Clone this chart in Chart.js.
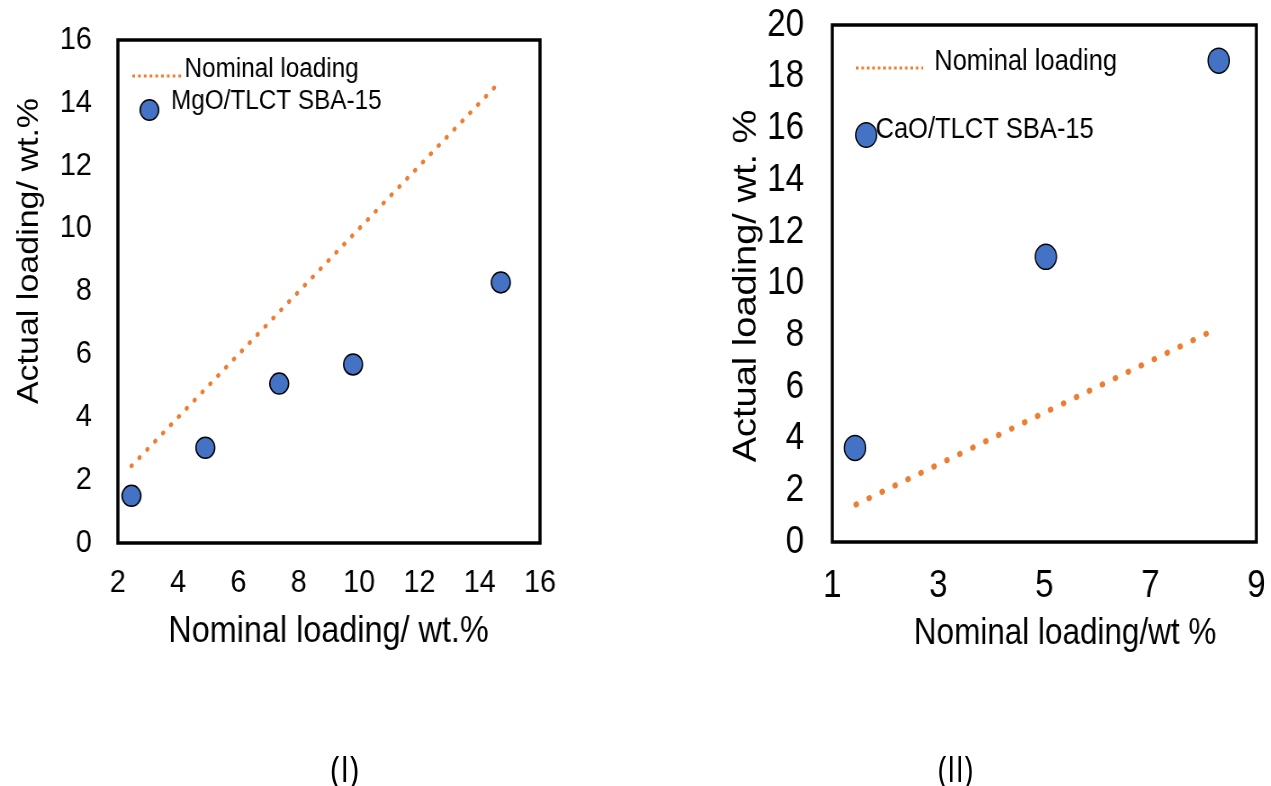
<!DOCTYPE html>
<html>
<head>
<meta charset="utf-8">
<title>Actual vs nominal loading</title>
<script src="https://cdn.jsdelivr.net/npm/chart.js@4.4.1/dist/chart.umd.min.js"></script>
<style>
  html, body { margin: 0; padding: 0; background: #fff; overflow: hidden; }
  .panel { position: absolute; top: 0; height: 786px; transform-origin: 0 0; }
  #panelMgo { left: 0; width: 706px; transform: scaleX(0.9); }
  #panelCao { left: 635px; width: 748px; transform: scaleX(0.85); }
  .panel canvas { position: absolute; left: 0; top: 0; }
  .panel-tag {
    position: absolute; top: 768px;
    font-family: 'Open Sans', sans-serif; font-size: 36px; color: #000;
    transform: translate(-50%, -50%); white-space: nowrap;
  }
</style>
</head>
<body>
<div class="panel" id="panelMgo">
  <canvas id="mgoChart" width="706" height="680"></canvas>
  <div class="panel-tag" style="left:383px">(I)</div>
</div>
<div class="panel" id="panelCao">
  <canvas id="caoChart" width="748" height="680"></canvas>
  <div class="panel-tag" style="left:377px">(II)</div>
</div>
<script>
// (I) MgO on TLCT SBA-15
const mgoNominal = [2.45, 4.9, 7.35, 9.8, 14.7];
const mgoActual = [1.5, 3.03, 5.07, 5.68, 8.29];
const mgoLine = [2.45, 14.65];
const mgoXTicks = [2, 4, 6, 8, 10, 12, 14, 16];
const mgoYTicks = [0, 2, 4, 6, 8, 10, 12, 14, 16];

// (II) CaO on TLCT SBA-15
const caoNominal = [1.43, 5.03, 8.29];
const caoActual = [3.64, 11.03, 18.62];
const caoLine = [1.45, 8.22];
const caoXTicks = [1, 3, 5, 7, 9];
const caoYTicks = [0, 2, 4, 6, 8, 10, 12, 14, 16, 18, 20];

const FONT = "'Liberation Sans', Arial, sans-serif";
const orange = '#ED7D31';
const blue = '#4472C4';

// frame, in-plot legend and axis titles
const decor = {
    id: 'decor',
    beforeDatasetsDraw(chart, args, o) {
        const { ctx, chartArea: a } = chart;
        ctx.save();
        ctx.strokeStyle = '#000';
        ctx.lineWidth = 3.5;
        ctx.strokeRect(a.left, a.top, a.right - a.left, a.bottom - a.top);
        ctx.restore();
    },
    afterDraw(chart, args, o) {
        const ctx = chart.ctx;
        const lg = o.legend;
        ctx.save();
        ctx.fillStyle = '#000';
        ctx.textBaseline = 'middle';

        // dotted line sample
        ctx.strokeStyle = orange;
        ctx.lineWidth = 3;
        ctx.setLineDash([3, 3.4]);
        ctx.beginPath();
        ctx.moveTo(lg.lineX1, lg.lineY);
        ctx.lineTo(lg.lineX2, lg.lineY);
        ctx.stroke();
        ctx.setLineDash([]);

        // marker sample
        ctx.beginPath();
        ctx.arc(lg.dotX, lg.dotY, lg.dotR, 0, Math.PI * 2);
        ctx.fillStyle = blue;
        ctx.fill();
        ctx.lineWidth = 1.5;
        ctx.strokeStyle = '#000';
        ctx.stroke();

        ctx.fillStyle = '#000';
        ctx.textAlign = 'left';
        ctx.font = lg.size + 'px ' + FONT;
        ctx.fillText('Nominal loading', lg.text1X, lg.text1Y);
        ctx.fillText(lg.label, lg.text2X, lg.text2Y);

        // axis titles
        const t = o.titles;
        ctx.textAlign = 'center';
        ctx.font = t.xSize + 'px ' + FONT;
        ctx.fillText(t.x, t.xX, t.xY);
        ctx.translate(t.yX, t.yY);
        ctx.rotate(-Math.PI / 2);
        ctx.font = t.ySize + 'px ' + FONT;
        ctx.fillText(t.y, 0, 0);
        ctx.restore();
    }
};

function makePanel(id, p) {
    const H = 680;
    const tickFont = { family: FONT, size: p.tickSize };
    new Chart(document.getElementById(id), {
        type: 'scatter',
        data: {
            datasets: [
                {
                    type: 'line',
                    data: p.line.map(v => ({ x: v, y: v })),
                    borderColor: orange,
                    borderWidth: p.dotSize,
                    borderDash: [0.5, p.dotGap],
                    borderCapStyle: 'round',
                    pointRadius: 0,
                    fill: false,
                    clip: false
                },
                {
                    data: p.nominal.map((v, i) => ({ x: v, y: p.actual[i] })),
                    backgroundColor: blue,
                    borderColor: '#000',
                    borderWidth: 1.5,
                    pointRadius: p.markerR,
                    pointHoverRadius: p.markerR,
                    clip: false
                }
            ]
        },
        options: {
            responsive: false,
            animation: false,
            events: [],
            layout: { padding: { left: 0, top: p.top, right: p.right, bottom: 0 } },
            plugins: {
                legend: { display: false },
                tooltip: { enabled: false },
                decor: { legend: p.legend, titles: p.titles }
            },
            scales: {
                x: {
                    type: 'linear',
                    min: p.xTicks[0],
                    max: p.xTicks[p.xTicks.length - 1],
                    grid: { display: false, drawTicks: false },
                    border: { display: false },
                    ticks: { color: '#000', font: tickFont, padding: p.xPad, maxRotation: 0, autoSkip: false },
                    afterBuildTicks: s => { s.ticks = p.xTicks.map(v => ({ value: v })); },
                    afterFit: s => {
                        s.height = H - p.bottom;
                        s.paddingLeft = 0;
                        s.paddingRight = 0;
                    }
                },
                y: {
                    type: 'linear',
                    min: p.yTicks[0],
                    max: p.yTicks[p.yTicks.length - 1],
                    grid: { display: false, drawTicks: false },
                    border: { display: false },
                    ticks: { color: '#000', font: tickFont, padding: p.yPad, autoSkip: false },
                    afterBuildTicks: s => { s.ticks = p.yTicks.map(v => ({ value: v })); },
                    afterFit: s => {
                        s.width = p.left;
                        s.paddingTop = 0;
                        s.paddingBottom = 0;
                    }
                }
            }
        },
        plugins: [decor]
    });
}

makePanel('mgoChart', {
    nominal: mgoNominal, actual: mgoActual, line: mgoLine,
    xTicks: mgoXTicks, yTicks: mgoYTicks,
    left: 131, right: 106, top: 40, bottom: 543,
    tickSize: 32, xPad: 21, yPad: 29,
    markerR: 10.5, dotSize: 4.5, dotGap: 11.5,
    legend: {
        size: 27, label: 'MgO/TLCT SBA-15',
        lineX1: 147, lineX2: 203, lineY: 76,
        text1X: 205, text1Y: 70,
        dotX: 166, dotY: 110, dotR: 10.3,
        text2X: 190, text2Y: 102
    },
    titles: {
        x: 'Nominal loading/ wt.%', xSize: 36, xX: 365, xY: 632,
        y: 'Actual loading/ wt.%', ySize: 34, yX: 33, yY: 251
    }
});

makePanel('caoChart', {
    nominal: caoNominal, actual: caoActual, line: caoLine,
    xTicks: caoXTicks, yTicks: caoYTicks,
    left: 232, right: 17, top: 25, bottom: 542,
    tickSize: 39, xPad: 21, yPad: 33,
    markerR: 12.5, dotSize: 6, dotGap: 16,
    legend: {
        size: 30, label: 'CaO/TLCT SBA-15',
        lineX1: 260, lineX2: 339, lineY: 68,
        text1X: 352, text1Y: 62,
        dotX: 272, dotY: 135, dotR: 12.3,
        text2X: 283, text2Y: 130
    },
    titles: {
        x: 'Nominal loading/wt %', xSize: 37, xX: 506, xY: 634,
        y: 'Actual loading/ wt. %', ySize: 38, yX: 132, yY: 286
    }
});
</script>
</body>
</html>
